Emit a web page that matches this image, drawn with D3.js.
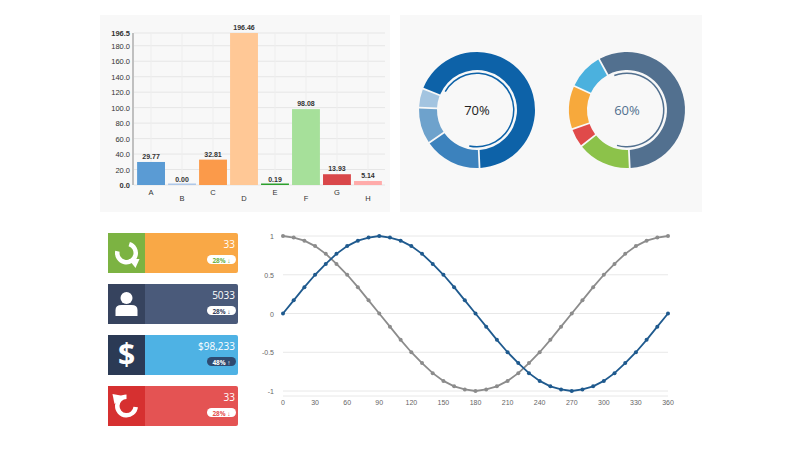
<!DOCTYPE html>
<html><head><meta charset="utf-8">
<script src="https://cdn.jsdelivr.net/npm/d3@7"></script>
<style>body{margin:0;background:#fff;font-family:"Open Sans",Arial,sans-serif}</style>
</head><body><svg id="c" width="800" height="450"></svg>
<script>
// bar data
const barCats = ["A","B","C","D","E","F","G","H"];
const barVals = [29.77, 0.00, 32.81, 196.46, 0.19, 98.08, 13.93, 5.14];
const barColors = ["#5a9bd4","#aec7e8","#fb9a4a","#ffc896","#2ca02c","#a6e09a","#d9474a","#ffabaa"];
const yTicks = [0,20,40,60,80,100,120,140,160,180];

// donuts
const donut1 = [69, 16, 10, 5];
const donut1Colors = ["#0d62a8","#3c82bd","#6ea2cc","#a3c4e0"];
const donut2 = [58, 15, 5, 12, 10];
const donut2Colors = ["#52708f","#8cc24a","#e04a4a","#f7a93c","#4bb1de"];
const donutLabels = ["70%","60%"];

// cards
const cardValues = ["33","5033","$98,233","33"];
const cardBadges = ["28% \u2193","28% \u2193","48% \u2191","28% \u2193"];

// line data
const angles = d3.range(0, 361, 10);
const sinVals = [0,0.17,0.34,0.5,0.64,0.77,0.87,0.94,0.98,1,0.98,0.94,0.87,0.77,0.64,0.5,0.34,0.17,0,-0.17,-0.34,-0.5,-0.64,-0.77,-0.87,-0.94,-0.98,-1,-0.98,-0.94,-0.87,-0.77,-0.64,-0.5,-0.34,-0.17,0];
const cosVals = [1,0.98,0.94,0.87,0.77,0.64,0.5,0.34,0.17,0,-0.17,-0.34,-0.5,-0.64,-0.77,-0.87,-0.94,-0.98,-1,-0.98,-0.94,-0.87,-0.77,-0.64,-0.5,-0.34,-0.17,0,0.17,0.34,0.5,0.64,0.77,0.87,0.94,0.98,1];
const xTicks = d3.range(0, 361, 30);
const lineYTicks = [1,0.5,0,-0.5,-1];

const svg = d3.select("#c");

// panels
svg.append("rect").attr("x",100).attr("y",15).attr("width",290).attr("height",197).attr("fill","#f8f8f8");
svg.append("rect").attr("x",400).attr("y",15).attr("width",302).attr("height",197).attr("fill","#f8f8f8");

// ---- bar chart
const bx = d3.scaleBand().domain(barCats).range([134,385]).padding(0.1);
const by = d3.scaleLinear().domain([0,196.5]).range([185,33]);
const bar = svg.append("g").style("font-family","Arial, sans-serif");
bar.selectAll(".g").data(yTicks.concat([196.5])).join("line")
  .attr("x1",134).attr("x2",385).attr("y1",d=>by(d)).attr("y2",d=>by(d)).attr("stroke","#e6e6e6");
bar.selectAll(".v").data(barCats).join("line")
  .attr("x1",d=>bx(d)+bx.bandwidth()/2).attr("x2",d=>bx(d)+bx.bandwidth()/2)
  .attr("y1",33).attr("y2",185).attr("stroke","#eeeeee");
bar.append("line").attr("x1",133).attr("x2",133).attr("y1",33).attr("y2",185).attr("stroke","#888");
bar.selectAll(".yt").data(yTicks.concat([196.5])).join("text")
  .attr("x",130).attr("y",d=>by(d)+3).attr("text-anchor","end").attr("font-size",7.5)
  .attr("font-weight",d=>(d===0||d===196.5)?"bold":"normal").attr("fill","#333")
  .text(d=>d.toFixed(1));
bar.selectAll(".b").data(barVals).join("rect")
  .attr("x",(d,i)=>bx(barCats[i])).attr("width",bx.bandwidth())
  .attr("y",d=>Math.min(by(d),183.5)).attr("height",d=>Math.max(185-by(d),1.5))
  .attr("fill",(d,i)=>barColors[i]);
bar.selectAll(".bl").data(barVals).join("text")
  .attr("x",(d,i)=>bx(barCats[i])+bx.bandwidth()/2).attr("y",d=>by(d)-3)
  .attr("text-anchor","middle").attr("font-size",7).attr("font-weight","bold").attr("fill","#333")
  .text(d=>d.toFixed(2));
bar.selectAll(".xl").data(barCats).join("text")
  .attr("x",d=>bx(d)+bx.bandwidth()/2).attr("y",(d,i)=>i%2?201:195)
  .attr("text-anchor","middle").attr("font-size",7.5).attr("fill","#333").text(d=>d);

// ---- donuts
function donut(cx, vals, cols, label, pct, textCol) {
  const g = svg.append("g").attr("transform",`translate(${cx},110)`);
  const total = d3.sum(vals);
  const pie = d3.pie().sort(null).padAngle(0.025)
    .startAngle(-2*Math.PI*vals[0]/total + Math.PI).endAngle(-2*Math.PI*vals[0]/total + 3*Math.PI);
  const arc = d3.arc().innerRadius(40).outerRadius(58);
  g.selectAll("path").data(pie(vals)).join("path").attr("d",arc).attr("fill",(d,i)=>cols[i]);
  const st = -2*Math.PI*vals[0]/total + Math.PI + 0.15;
  g.append("path").attr("d",d3.arc().innerRadius(36).outerRadius(37.5).startAngle(st).endAngle(st+2*Math.PI*pct))
    .attr("fill",cols[0]);
  g.append("text").attr("y",5).attr("text-anchor","middle").attr("font-size",13)
    .attr("fill",textCol).text(label);
}
donut(477, donut1, donut1Colors, donutLabels[0], 0.7, "#222");
donut(627, donut2, donut2Colors, donutLabels[1], 0.6, "#52708f");

// ---- cards
const cardIconCol = ["#7cb342","#36435e","#2b3a55","#d63030"];
const cardBodyCol = ["#f9a846","#4a5a7a","#4eb2e4","#e45353"];
const cardBadgeTxt = ["#6bb34a","#36435e","#ffffff","#e45353"];
cardValues.forEach((v,i)=>{
  const y0 = 233 + i*51;
  const g = svg.append("g").attr("transform",`translate(108,${y0})`);
  g.append("rect").attr("width",130).attr("height",40).attr("rx",2).attr("fill",cardBodyCol[i]);
  g.append("rect").attr("width",37).attr("height",40).attr("fill",cardIconCol[i]);
  g.append("text").attr("x",127).attr("y",15).attr("text-anchor","end").attr("font-size",10)
    .attr("fill","#fff").text(v);
  g.append("rect").attr("x",99).attr("y",22).attr("width",29).attr("height",9).attr("rx",4.5)
    .attr("fill",i===2?"#2f4a70":"#fff");
  g.append("text").attr("x",113.5).attr("y",29.5).attr("text-anchor","middle").attr("font-size",6.5)
    .attr("font-weight","bold").attr("fill",cardBadgeTxt[i]).text(cardBadges[i]);
  const ic = g.append("g").attr("transform","translate(18.5,20)");
  if (i===0 || i===3) {
    const a = d3.arc().innerRadius(7).outerRadius(11.5);
    const s = i===0 ? 0.3 : -4.6;
    ic.append("path").attr("d",a.startAngle(s).endAngle(s+4.6)()).attr("fill","#fff");
    if (i===0) ic.append("path").attr("d","M2,6 L13,6 L9,15 Z").attr("fill","#fff");
    else ic.append("path").attr("d","M-14,-12 L-3,-10 L-12,-2 Z").attr("fill","#fff");
  } else if (i===1) {
    ic.append("circle").attr("cy",-6).attr("r",6).attr("fill","#fff");
    ic.append("path").attr("d","M-11,12 L-11,6 Q-11,1 -5,1 L5,1 Q11,1 11,6 L11,12 Z").attr("fill","#fff");
  } else {
    ic.append("text").attr("y",10).attr("text-anchor","middle").attr("font-size",30)
      .attr("font-weight","bold").attr("fill","#fff").text("$");
  }
});

// ---- line chart
const lx = d3.scaleLinear().domain([0,360]).range([283,668]);
const ly = d3.scaleLinear().domain([-1,1]).range([391,236]);
const lg = svg.append("g").style("font-family","Arial, sans-serif");
lg.selectAll(".gl").data(lineYTicks).join("line")
  .attr("x1",283).attr("x2",668).attr("y1",d=>ly(d)).attr("y2",d=>ly(d)).attr("stroke","#e8e8e8");
lg.append("line").attr("x1",283).attr("x2",668).attr("y1",396).attr("y2",396).attr("stroke","#e8e8e8");
lg.selectAll(".yl").data(lineYTicks).join("text")
  .attr("x",274).attr("y",d=>ly(d)+3).attr("text-anchor","end").attr("font-size",7).attr("fill","#666").text(d=>d);
lg.selectAll(".xl").data(xTicks).join("text")
  .attr("x",d=>lx(d)).attr("y",405).attr("text-anchor","middle").attr("font-size",7).attr("fill","#666").text(d=>d);
[[cosVals,"#8c8c8c"],[sinVals,"#1f5a8e"]].forEach(([vals,col])=>{
  const line = d3.line().x((d,i)=>lx(angles[i])).y(d=>ly(d));
  lg.append("path").attr("d",line(vals)).attr("fill","none").attr("stroke",col).attr("stroke-width",1.8);
  lg.selectAll(null).data(vals).join("circle").attr("cx",(d,i)=>lx(angles[i])).attr("cy",d=>ly(d))
    .attr("r",2).attr("fill",col);
});
</script></body></html>
